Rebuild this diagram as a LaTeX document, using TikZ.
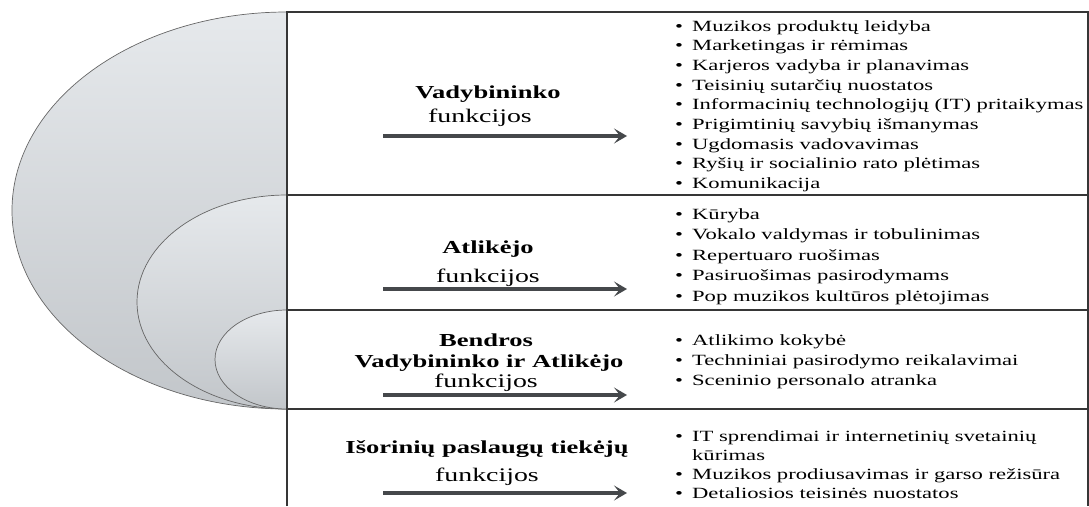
\documentclass[tikz,border=0pt]{standalone}
\usepackage{fontspec}
\setmainfont{Liberation Serif}
\usepackage{graphicx}
\usetikzlibrary{arrows.meta}

\definecolor{elltop}{HTML}{E6E9EC}
\definecolor{ellbot}{HTML}{C2C6CA}
\definecolor{arrgray}{HTML}{45484B}
\definecolor{rulegray}{HTML}{363636}

\newcommand{\wide}[1]{\scalebox{1.45}[1]{#1}}% tekstas paveiksle istemptas
\newcommand{\bul}{\makebox[11.7pt][l]{•}}
\newcommand{\nobul}{\hspace*{11.7pt}}

\tikzset{
  fn_title/.style = {font=\fontsize{18.3}{20}\selectfont\bfseries, inner sep=0pt, anchor=base},% grupes pavadinimas
  fn_sub/.style = {font=\fontsize{19.2}{21}\selectfont, inner sep=0pt, anchor=base},% "funkcijos"
  fn_item/.style = {font=\fontsize{15.6}{19}\selectfont, inner sep=0pt, anchor=base west},% saraso punktas
  fn_arrow/.style = {arrgray, line width=3.5pt, -{Stealth[length=13pt,width=15pt,inset=6pt]}},
  fn_rule/.style = {rulegray, line width=1.1pt},
  fn_ell/.style = {top color=elltop, bottom color=ellbot, draw=black!60, line width=0.7pt}
}

\begin{document}
\begin{tikzpicture}[x=1pt, y=-1pt]
  \useasboundingbox (0,0) rectangle (1089,506);

  % pusiau elipses
  \begin{scope}
    \clip (0,0) rectangle (287,506);
    \draw [fn_ell] (287,210.5) ellipse [x radius=275, y radius=198.5];
    \draw [fn_ell] (287,302) ellipse [x radius=150, y radius=107];
    \draw [fn_ell] (287,359.5) ellipse [x radius=72, y radius=49.5];
  \end{scope}

  % lentele
  \draw [fn_rule] (287,506) -- (287,12) -- (1088,12) -- (1088,506);
  \foreach \y in {195,310,409}
    \draw [fn_rule] (287,\y) -- (1088,\y);

  % Vadybininko
  \node [fn_title] (vad) at (488,98) {\wide{Vadybininko}};
  \node [fn_sub] (vadF) at (480,122) {\wide{funkcijos}};
  \coordinate (vadA) at (383,136);
  \coordinate (vadB) at (627,136);
  \draw [fn_arrow] (vadA) -- (vadB);
  \foreach \t [count=\i] in {\bul Muzikos produktų leidyba,
      \bul Marketingas ir rėmimas,
      \bul Karjeros vadyba ir planavimas,
      \bul Teisinių sutarčių nuostatos,
      \bul Informacinių technologijų (IT) pritaikymas,
      \bul Prigimtinių savybių išmanymas,
      \bul Ugdomasis vadovavimas,
      \bul Ryšių ir socialinio rato plėtimas,
      \bul Komunikacija}
    \node [fn_item] (vad\i) at (675,{31+19.7*(\i-1)}) {\wide{\t}};

  % Atlikejo
  \node [fn_title] (atl) at (488,253) {\wide{Atlikėjo}};
  \node [fn_sub] (atlF) at (488,282) {\wide{funkcijos}};
  \coordinate (atlA) at (383,289);
  \coordinate (atlB) at (627,289);
  \draw [fn_arrow] (atlA) -- (atlB);
  \foreach \t [count=\i] in {\bul Kūryba,
      \bul Vokalo valdymas ir tobulinimas,
      \bul Repertuaro ruošimas,
      \bul Pasiruošimas pasirodymams,
      \bul Pop muzikos kultūros plėtojimas}
    \node [fn_item] (atl\i) at (675,{219+20.5*(\i-1)}) {\wide{\t}};

  % Bendros
  \node [fn_title] (ben) at (486,346) {\wide{Bendros}};
  \node [fn_title] (ben2) at (489,367) {\wide{Vadybininko ir Atlikėjo}};
  \node [fn_sub] (benF) at (486,387) {\wide{funkcijos}};
  \coordinate (benA) at (383,395);
  \coordinate (benB) at (627,395);
  \draw [fn_arrow] (benA) -- (benB);
  \foreach \t [count=\i] in {\bul Atlikimo kokybė,
      \bul Techniniai pasirodymo reikalavimai,
      \bul Sceninio personalo atranka}
    \node [fn_item] (ben\i) at (675,{345+20*(\i-1)}) {\wide{\t}};

  % Isoriniu paslaugu tiekeju
  \node [fn_title] (iso) at (487,453) {\wide{Išorinių paslaugų tiekėjų}};
  \node [fn_sub] (isoF) at (487,481) {\wide{funkcijos}};
  \coordinate (isoA) at (383,493);
  \coordinate (isoB) at (627,493);
  \draw [fn_arrow] (isoA) -- (isoB);
  \foreach \t [count=\i] in {\bul IT sprendimai ir internetinių svetainių,
      \nobul kūrimas,
      \bul Muzikos prodiusavimas ir garso režisūra,
      \bul Detaliosios teisinės nuostatos}
    \node [fn_item] (iso\i) at (675,{441.5+19*(\i-1)}) {\wide{\t}};
\end{tikzpicture}
\end{document}
